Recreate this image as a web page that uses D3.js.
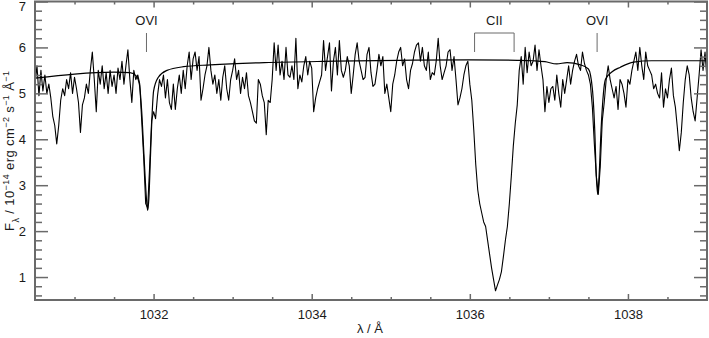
<!DOCTYPE html>
<html>
<head>
<meta charset="utf-8">
<script src="https://cdn.jsdelivr.net/npm/d3@7"></script>
<style>
  body { margin: 0; background: #fff; }
  svg { display: block; font-family: "Liberation Sans", Arial, sans-serif; }
</style>
</head>
<body>
<svg id="chart" width="709" height="338"></svg>
<script>
// Observed flux (10^-14 erg cm^-2 s^-1 A^-1), on a regular wavelength grid
const waveStart = 1030.5;
const waveStep = 0.025;
const flux = [
  5.2, 5.6, 4.95, 5.5, 5.05, 5.4, 5.0, 5.2, 4.9, 4.5,
  4.3, 3.9, 4.3, 4.85, 5.1, 4.95, 5.3, 5.1, 5.45, 5.0,
  5.35, 5.1, 4.8, 4.15, 4.75, 4.9, 5.2, 5.0, 5.5, 5.9,
  5.3, 4.6, 5.5, 5.2, 5.6, 5.1, 5.45, 5.0, 5.5, 5.15,
  5.4, 5.0, 5.55, 5.3, 5.7, 5.2, 5.6, 5.95, 5.3, 4.8,
  5.5, 5.3, 5.4, 5.2, 4.4, 3.6, 2.6, 2.5, 3.4, 4.4,
  4.6, 4.45, 4.95, 5.3, 5.15, 5.4, 4.9, 5.3, 4.8, 4.65,
  5.2, 4.65, 5.1, 5.4, 5.0, 5.5, 5.1, 5.6, 5.9, 5.3,
  5.75, 5.9, 5.5, 5.8, 4.85, 5.1, 5.4, 5.6, 6.0, 5.5,
  5.2, 5.4, 5.0, 5.3, 4.85, 5.35, 5.6, 5.1, 4.85, 5.3,
  5.5, 5.75, 5.3, 5.5, 5.0, 5.35, 5.1, 5.45, 4.95, 4.8,
  4.6, 4.4, 4.35, 5.3, 5.2, 4.95, 4.8, 4.1, 4.85, 4.8,
  5.3, 6.1, 5.5, 6.05, 5.4, 5.7, 5.3, 6.0, 5.4, 5.35,
  5.6, 5.3, 6.2, 5.1, 5.4, 5.25, 5.6, 5.8, 5.4, 5.7,
  5.55, 4.6, 4.9, 5.1, 5.25, 5.4, 6.15, 5.5, 5.8, 6.1,
  5.05, 5.7, 6.0, 5.4, 6.15, 5.5, 5.35, 5.5, 5.8, 5.6,
  5.0, 5.4, 5.85, 6.1, 5.7, 5.5, 5.3, 5.35, 5.85, 6.0,
  5.45, 5.15, 5.2, 5.5, 5.85, 5.6, 5.8, 5.0, 5.2, 4.9,
  4.6, 5.2, 5.4, 5.7, 5.9, 6.0, 5.6, 5.75, 5.3, 5.1,
  5.5, 5.65, 5.9, 6.05, 6.1, 5.7, 6.0, 5.6, 5.5, 5.9,
  5.3, 5.45, 5.4, 5.7, 6.2, 5.6, 5.3, 5.45, 5.6, 5.9,
  5.95, 5.5, 5.8, 5.3, 4.75, 4.9, 5.1, 5.4, 5.6, 5.7,
  5.2, 4.85, 4.2, 3.45, 2.9, 2.6, 2.4, 2.2, 2.1, 1.8,
  1.5, 1.2, 0.95, 0.7, 0.83, 0.95, 1.12, 1.45, 1.8, 2.1,
  2.6, 3.2, 3.85, 4.35, 4.75, 5.5, 5.8, 5.2, 6.0, 5.45,
  5.9, 5.6, 5.7, 6.05, 5.5, 5.95, 5.6, 5.3, 4.6, 5.15,
  4.8, 5.1, 5.15, 4.85, 5.4, 5.0, 4.7, 5.3, 5.0, 5.3,
  5.6, 5.2, 5.5, 5.7, 5.85, 5.6, 5.5, 5.9, 5.65, 5.5,
  5.4, 5.2, 4.7, 3.9, 3.2, 2.8, 3.4, 4.4, 4.8, 5.3,
  5.6, 5.3, 5.1, 4.9, 5.15, 4.65, 5.3, 5.2, 5.0, 4.7,
  5.3, 5.2, 5.5, 5.7, 5.9, 5.5, 6.0, 5.6, 5.3, 5.9,
  5.6, 5.5, 5.4, 5.1, 5.2, 5.0, 4.9, 5.45, 4.7, 5.1,
  4.9, 5.3, 5.55, 4.95, 4.7, 4.25, 3.75, 4.15, 4.8, 5.3,
  5.6, 5.4, 4.9, 4.6, 4.4, 4.9, 5.4, 5.95, 5.5, 5.9, 5.3
];

// Model spectrum
const modelWave = [
  1030.5, 1031.0, 1031.5, 1031.7, 1031.78, 1031.82, 1031.85, 1031.88, 1031.91,
  1031.925, 1031.94, 1031.96, 1031.98, 1032.0, 1032.06, 1032.17, 1032.38,
  1032.72, 1033.4, 1034.3, 1035.1, 1036.0, 1036.6, 1036.8, 1036.95, 1037.1,
  1037.23, 1037.4, 1037.5, 1037.55, 1037.58, 1037.6, 1037.617, 1037.635,
  1037.66, 1037.69, 1037.715, 1037.8, 1037.905, 1038.07, 1038.3, 1039.0
];
const modelFlux = [
  5.33, 5.42, 5.46, 5.45, 5.38, 5.2, 4.6, 3.6, 2.7,
  2.45, 2.7, 3.6, 4.5, 5.05, 5.35, 5.5, 5.58,
  5.62, 5.67, 5.7, 5.72, 5.73, 5.72, 5.71, 5.69, 5.64,
  5.67, 5.62, 5.53, 5.1, 4.2, 3.2, 2.8, 3.2,
  4.2, 5.0, 5.3, 5.47, 5.57, 5.68, 5.71, 5.71
];

// Ticks
const xMajorTicks = [1032, 1034, 1036, 1038];
const xMinorTicks = [1031, 1031.5, 1032.5, 1033, 1033.5, 1034.5, 1035, 1035.5,
  1036.5, 1037, 1037.5, 1038.5];
const yMajorTicks = [1, 2, 3, 4, 5, 6, 7];
const yMinorTicks = [0.6, 0.8, 1.2, 1.4, 1.6, 1.8, 2.2, 2.4, 2.6, 2.8,
  3.2, 3.4, 3.6, 3.8, 4.2, 4.4, 4.6, 4.8, 5.2, 5.4, 5.6, 5.8,
  6.2, 6.4, 6.6, 6.8];

// Line identifications
const lineLabels = ["OVI", "OVI"];
const lineWaves = [1031.91, 1037.61];
const bracketLabel = "CII";
const bracketWaves = [1036.06, 1036.56];

const plotLeft = 35, plotRight = 707, plotTop = 1.5, plotBottom = 300;
const axisColor = "#6a6a6a";
const textColor = "#1a1a1a";

const svg = d3.select("#chart");

const x = d3.scaleLinear().domain([1030.5, 1039]).range([plotLeft, plotRight]);
const y = d3.scaleLinear().domain([0.5, 7]).range([plotBottom, plotTop]);

const spectrum = flux.map((f, i) => [waveStart + i * waveStep, f]);
const model = modelWave.map((w, i) => [w, modelFlux[i]]);

// Clip so nothing leaks outside the frame
svg.append("clipPath").attr("id", "plot")
  .append("rect")
    .attr("x", plotLeft).attr("y", plotTop)
    .attr("width", plotRight - plotLeft).attr("height", plotBottom - plotTop);

const plot = svg.append("g").attr("clip-path", "url(#plot)");

plot.append("path")
  .datum(spectrum)
  .attr("fill", "none")
  .attr("stroke", "#000")
  .attr("stroke-width", 1.1)
  .attr("stroke-linejoin", "round")
  .attr("d", d3.line().x(d => x(d[0])).y(d => y(d[1])));

plot.append("path")
  .datum(model)
  .attr("fill", "none")
  .attr("stroke", "#000")
  .attr("stroke-width", 1.2)
  .attr("d", d3.line().x(d => x(d[0])).y(d => y(d[1])).curve(d3.curveMonotoneX));

/**
 * Draws one axis with inward major and minor ticks.
 */
function drawAxis(axisFn, scale, transform, major, minor, majorLen, minorLen, labels) {
  const gMinor = svg.append("g").attr("transform", transform)
    .call(axisFn(scale).tickValues(minor).tickSize(-minorLen).tickFormat(""));
  const gMajor = svg.append("g").attr("transform", transform)
    .call(axisFn(scale).tickValues(major).tickSize(-majorLen)
      .tickFormat(labels ? d3.format("d") : ""));
  [gMinor, gMajor].forEach(g => {
    g.select(".domain").remove();
    g.selectAll(".tick line").attr("stroke", axisColor).attr("stroke-width", 1.5);
    g.selectAll(".tick text").attr("fill", textColor).style("font-size", "13px")
      .style("font-family", "Liberation Sans, Arial, sans-serif");
  });
  return gMajor;
}

const bx = drawAxis(d3.axisBottom, x, `translate(0,${plotBottom})`, xMajorTicks, xMinorTicks, 6, 3, true);
bx.selectAll(".tick text").attr("dy", null).attr("y", 19);
drawAxis(d3.axisTop, x, `translate(0,${plotTop})`, xMajorTicks, xMinorTicks, 6, 3, false);
const ly = drawAxis(d3.axisLeft, y, `translate(${plotLeft},0)`, yMajorTicks, yMinorTicks, 13, 7, true);
ly.selectAll(".tick text").attr("x", -9);
// the top label sits at the very edge; nudge it so it stays on the canvas
ly.selectAll(".tick").filter(d => d === 7).select("text").attr("dy", "0.75em").attr("y", -1);
drawAxis(d3.axisRight, y, `translate(${plotRight},0)`, yMajorTicks, yMinorTicks, 13, 7, false);

// Frame
svg.append("rect")
  .attr("x", plotLeft).attr("y", plotTop)
  .attr("width", plotRight - plotLeft).attr("height", plotBottom - plotTop)
  .attr("fill", "none")
  .attr("stroke", axisColor)
  .attr("stroke-width", 2);

// Axis titles
svg.append("text")
  .attr("x", 370).attr("y", 333)
  .attr("text-anchor", "middle")
  .attr("fill", textColor)
  .style("font-size", "13px")
  .text("λ / Å");

const yt = svg.append("text")
  .attr("transform", `translate(14,${(plotTop + plotBottom) / 2}) rotate(-90)`)
  .attr("text-anchor", "middle")
  .attr("fill", textColor)
  .style("font-size", "13px")
  .style("letter-spacing", "0.4px");
yt.append("tspan").text("F");
yt.append("tspan").attr("baseline-shift", "sub").style("font-size", "9px").text("λ");
yt.append("tspan").text(" / 10");
yt.append("tspan").attr("baseline-shift", "super").style("font-size", "9px").text("−14");
yt.append("tspan").text(" erg cm");
yt.append("tspan").attr("baseline-shift", "super").style("font-size", "9px").text("−2");
yt.append("tspan").text(" s");
yt.append("tspan").attr("baseline-shift", "super").style("font-size", "9px").text("−1");
yt.append("tspan").text(" Å");
yt.append("tspan").attr("baseline-shift", "super").style("font-size", "9px").text("−1");

// Line identifications
const ann = svg.append("g");
lineWaves.forEach((w, i) => {
  ann.append("line")
    .attr("x1", x(w)).attr("x2", x(w))
    .attr("y1", 33).attr("y2", 52)
    .attr("stroke", axisColor);
  ann.append("text")
    .attr("x", x(w)).attr("y", 25)
    .attr("text-anchor", "middle")
    .attr("fill", textColor)
    .style("font-size", "13px")
    .text(lineLabels[i]);
});

ann.append("path")
  .attr("d", `M${x(bracketWaves[0])},52V33H${x(bracketWaves[1])}V52`)
  .attr("fill", "none")
  .attr("stroke", axisColor);
ann.append("text")
  .attr("x", (x(bracketWaves[0]) + x(bracketWaves[1])) / 2).attr("y", 25)
  .attr("text-anchor", "middle")
  .attr("fill", textColor)
  .style("font-size", "13px")
  .text(bracketLabel);
</script>
</body>
</html>
